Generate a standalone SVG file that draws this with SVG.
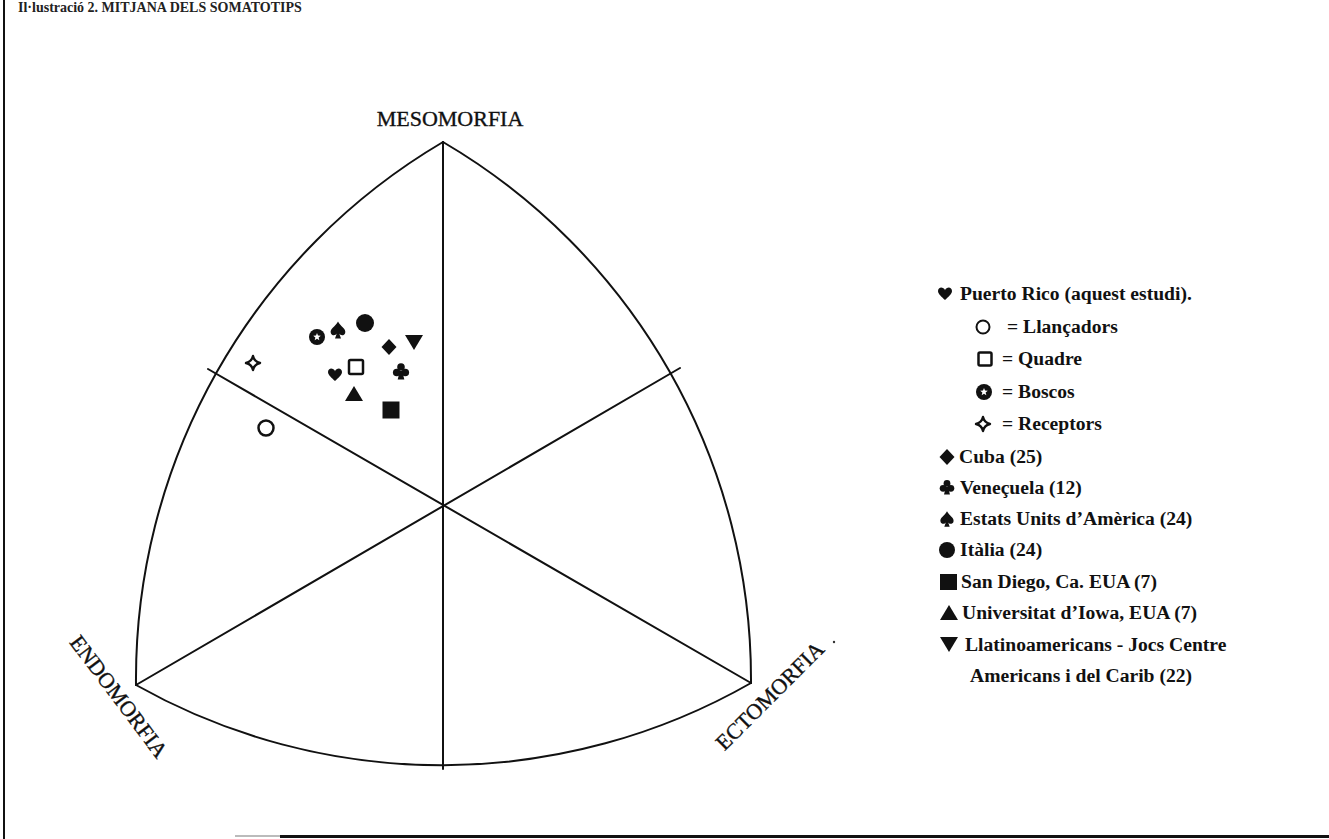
<svg xmlns="http://www.w3.org/2000/svg" xmlns:xlink="http://www.w3.org/1999/xlink" width="1329" height="839" viewBox="0 0 1329 839">
<style>
.ln{fill:none;stroke:#111;stroke-width:2;stroke-linecap:round}
.ax{font-family:"Liberation Serif",serif;font-size:22px;fill:#111;stroke:#111;stroke-width:0.35}
.lg{font-family:"Liberation Serif",serif;font-size:19.6px;font-weight:bold;fill:#111}
.ttl{font-family:"Liberation Serif",serif;font-size:14px;font-weight:bold;fill:#222}
.blk{fill:#111}
.open{fill:#fff;stroke:#111;stroke-width:2.5}
</style>
<defs>
<path id="heart" d="M0,6 C-3,3 -7,0 -7,-3 C-7,-6 -4,-7.5 -2,-6 C-1,-5.5 0,-4.5 0,-3.5 C0,-4.5 1,-5.5 2,-6 C4,-7.5 7,-6 7,-3 C7,0 3,3 0,6Z" class="blk"/>
<path id="spade" d="M0,-8.5 C-2.4,-3.6 -8.4,-1.2 -7.2,3 C-6.4,6 -2.4,6 -1.2,3.6 L-3,8.5 L3,8.5 L1.2,3.6 C2.4,6 6.4,6 7.2,3 C8.4,-1.2 2.4,-3.6 0,-8.5Z" class="blk"/>
<g id="club" class="blk"><circle cx="0" cy="-4" r="3.8"/><circle cx="-4.3" cy="1.5" r="3.8"/><circle cx="4.3" cy="1.5" r="3.8"/><path d="M-1.2,0 L-3.3,8.4 L3.3,8.4 L1.2,0Z"/></g>
<path id="diamond" d="M0,-8 L7.5,0 L0,8 L-7.5,0Z" class="blk"/>
<path id="tdown" d="M-9,-7 L9,-7 L0,8Z" class="blk"/>
<path id="tup" d="M0,-8 L9,7 L-9,7Z" class="blk"/>
<rect id="sq" x="-8.5" y="-8.5" width="17" height="17" class="blk"/>
<circle id="dot" r="9" class="blk"/>
<rect id="osq" x="-7" y="-7" width="14" height="14" rx="1.5" class="open"/>
<circle id="ocirc" r="7.5" class="open"/>
<path id="star4" d="M0,-7 Q1.3,-1.3 7,0 Q1.3,1.3 0,7 Q-1.3,1.3 -7,0 Q-1.3,-1.3 0,-7Z" fill="#fff" stroke="#111" stroke-width="2.4" stroke-linejoin="round"/>
<g id="bosc"><circle r="8" class="blk"/><polygon points="0,-4 1,-1.38 3.8,-1.24 1.62,0.53 2.35,3.24 0,1.7 -2.35,3.24 -1.62,0.53 -3.8,-1.24 -1,-1.38" fill="#fff"/></g>
</defs>
<rect width="1329" height="839" fill="#fff"/>
<g id="frame">
<line x1="4" y1="0" x2="4" y2="839" stroke="#111" stroke-width="2"/>
<line x1="235" y1="836" x2="280" y2="836" stroke="#bbb" stroke-width="2"/>
<line x1="280" y1="836.5" x2="1329" y2="836.5" stroke="#111" stroke-width="3"/>
<text class="ttl" x="18" y="12">Il·lustració 2. MITJANA DELS SOMATOTIPS</text>
</g>
<g id="connectors">
<path class="ln" d="M443,142 A623,623 0 0 0 136,685"/>
<path class="ln" d="M443,142 A623,623 0 0 1 751,683"/>
<path class="ln" d="M136,685 A623,623 0 0 0 751,683"/>
<line class="ln" x1="443" y1="142" x2="443" y2="769"/>
<line class="ln" x1="136" y1="685" x2="680" y2="368"/>
<line class="ln" x1="751" y1="683" x2="208" y2="369"/>
</g>
<g id="axis-labels">
<text class="ax" x="450" y="126" text-anchor="middle">MESOMORFIA</text>
<text class="ax" text-anchor="middle" transform="translate(113,701) rotate(53)">ENDOMORFIA</text>
<text class="ax" text-anchor="middle" transform="translate(775,701) rotate(-45)">ECTOMORFIA</text>
<circle cx="834" cy="642" r="1.2" fill="#333"/>
</g>
<g id="points">
<use xlink:href="#bosc" x="317" y="337"/>
<use xlink:href="#spade" x="338" y="330"/>
<use xlink:href="#dot" x="365" y="323"/>
<use xlink:href="#diamond" x="389" y="347"/>
<use xlink:href="#tdown" x="414" y="342"/>
<use xlink:href="#star4" x="253" y="363"/>
<use xlink:href="#osq" x="356" y="367"/>
<use xlink:href="#heart" x="335" y="375"/>
<use xlink:href="#club" x="401" y="371"/>
<use xlink:href="#tup" x="354" y="394"/>
<use xlink:href="#sq" x="391" y="410"/>
<use xlink:href="#ocirc" x="266" y="428"/>
</g>
<g id="legend">
<g id="lg-pr"><use xlink:href="#heart" transform="translate(945,294)"/><text class="lg" x="960" y="300">Puerto Rico (aquest estudi).</text></g>
<g id="lg-ll"><circle cx="983" cy="327" r="6.5" fill="#fff" stroke="#111" stroke-width="2"/><text class="lg" x="1007" y="333">= Llançadors</text></g>
<g id="lg-qu"><rect x="978.5" y="352.5" width="13" height="13" rx="1.5" fill="#fff" stroke="#111" stroke-width="2.5"/><text class="lg" x="1002" y="365">= Quadre</text></g>
<g id="lg-bo"><use xlink:href="#bosc" transform="translate(984,392)"/><text class="lg" x="1002" y="398">= Boscos</text></g>
<g id="lg-re"><use xlink:href="#star4" transform="translate(983,424)"/><text class="lg" x="1002" y="430">= Receptors</text></g>
<g id="lg-cu"><use xlink:href="#diamond" transform="translate(947,457)"/><text class="lg" x="959" y="463">Cuba (25)</text></g>
<g id="lg-ve"><use xlink:href="#club" transform="translate(947,487) scale(0.9)"/><text class="lg" x="960" y="494">Veneçuela (12)</text></g>
<g id="lg-eu"><use xlink:href="#spade" transform="translate(947,519) scale(0.9)"/><text class="lg" x="960" y="525">Estats Units d’Amèrica (24)</text></g>
<g id="lg-it"><circle cx="947" cy="550" r="8" class="blk"/><text class="lg" x="960" y="556">Itàlia (24)</text></g>
<g id="lg-sd"><rect x="940" y="574" width="17" height="16" class="blk"/><text class="lg" x="961" y="588">San Diego, Ca. EUA (7)</text></g>
<g id="lg-io"><use xlink:href="#tup" transform="translate(949,613)"/><text class="lg" x="962" y="619">Universitat d’Iowa, EUA (7)</text></g>
<g id="lg-la"><use xlink:href="#tdown" transform="translate(949,644)"/><text class="lg" x="965" y="651">Llatinoamericans - Jocs Centre</text><text class="lg" x="970" y="682">Americans i del Carib (22)</text></g>
</g>
</svg>
